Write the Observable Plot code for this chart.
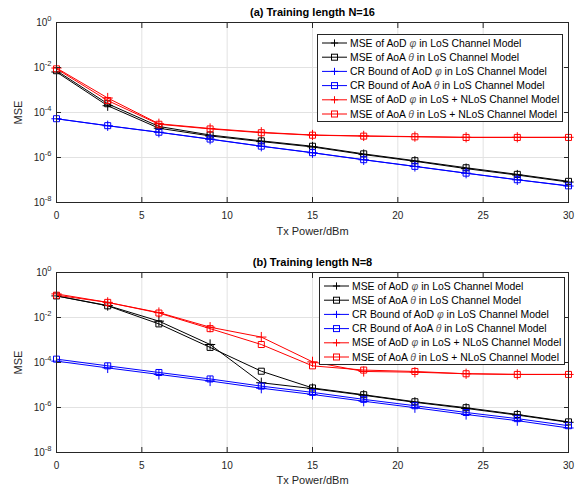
<!DOCTYPE html>
<html><head><meta charset="utf-8">
<script src="https://cdn.jsdelivr.net/npm/d3@7"></script>
<script src="https://cdn.jsdelivr.net/npm/@observablehq/plot@0.6"></script>
<style>
body{margin:0;background:#fff;}
#chart{width:577px;}
#chart svg{display:block;}
</style></head><body><div id="chart"></div>
<script>
// ---- data ----
const txPower = [0, 3, 6, 9, 12, 15, 18, 21, 24, 27, 30];
const seriesNames = [
  "MSE of AoD φ in LoS Channel Model",
  "MSE of AoA θ in LoS Channel Model",
  "CR Bound of AoD φ in LoS Channel Model",
  "CR Bound of AoA θ in LoS Channel Model",
  "MSE of AoD φ in LoS + NLoS Channel Model",
  "MSE of AoA θ in LoS + NLoS Channel Model"
];
const seriesColors = ["#000000", "#000000", "#0000ff", "#0000ff", "#ff0000", "#ff0000"];
const seriesSymbols = ["plus", "square", "plus", "square", "plus", "square"];
const xTicks = [0, 5, 10, 15, 20, 25, 30];
const yTicks = [1, 1e-2, 1e-4, 1e-6, 1e-8];
const yTickExponents = ["0", "-2", "-4", "-6", "-8"];
const titles = ["(a) Training length N=16", "(b) Training length N=8"];
const xLabel = "Tx Power/dBm";
const yLabel = "MSE";

// (a) N = 16
const a_aodLoS   = [6.3e-3, 2.0e-4, 2.0e-5, 9.1e-6, 5.1e-6, 2.95e-6, 1.35e-6, 6.8e-7, 3.2e-7, 1.66e-7, 8.1e-8];
const a_aoaLoS   = [7.2e-3, 2.45e-4, 2.4e-5, 1.0e-5, 5.5e-6, 3.16e-6, 1.45e-6, 7.2e-7, 3.5e-7, 1.78e-7, 8.7e-8];
const a_crbAoD   = [5.25e-5, 2.57e-5, 1.32e-5, 6.5e-6, 3.16e-6, 1.62e-6, 7.9e-7, 4.0e-7, 2.0e-7, 1.02e-7, 5.4e-8];
const a_crbAoA   = [5.3e-5, 2.6e-5, 1.33e-5, 6.6e-6, 3.2e-6, 1.64e-6, 8.0e-7, 4.05e-7, 2.02e-7, 1.03e-7, 5.5e-8];
const a_aodNLoS  = [9.5e-3, 4.4e-4, 3.16e-5, 1.95e-5, 1.32e-5, 1.0e-5, 9.1e-6, 8.5e-6, 7.9e-6, 7.9e-6, 7.9e-6];
const a_aoaNLoS  = [8.7e-3, 3.4e-4, 3.0e-5, 1.86e-5, 1.26e-5, 9.8e-6, 8.9e-6, 8.3e-6, 7.8e-6, 7.8e-6, 7.8e-6];

// (b) N = 8
const b_aodLoS   = [9.1e-2, 3.4e-2, 6.9e-3, 6.3e-4, 1.26e-5, 6.9e-6, 3.5e-6, 1.7e-6, 9.1e-7, 4.6e-7, 2.2e-7];
const b_aoaLoS   = [9.1e-2, 3.3e-2, 5.2e-3, 4.7e-4, 4.1e-5, 7.4e-6, 3.7e-6, 1.8e-6, 9.8e-7, 4.9e-7, 2.3e-7];
const b_crbAoD   = [1.15e-4, 5.75e-5, 2.95e-5, 1.51e-5, 7.2e-6, 3.8e-6, 1.9e-6, 9.8e-7, 4.9e-7, 2.6e-7, 1.23e-7];
const b_crbAoA   = [1.41e-4, 7.1e-5, 3.6e-5, 1.86e-5, 8.9e-6, 4.7e-6, 2.3e-6, 1.2e-6, 6.0e-7, 3.2e-7, 1.55e-7];
const b_aodNLoS  = [1.12e-1, 4.7e-2, 1.66e-2, 3.7e-3, 1.35e-3, 1.07e-4, 4.0e-5, 3.7e-5, 3.16e-5, 2.95e-5, 2.95e-5];
const b_aoaNLoS  = [9.8e-2, 4.7e-2, 1.58e-2, 3.2e-3, 6.3e-4, 7.1e-5, 4.6e-5, 4.0e-5, 3.16e-5, 2.95e-5, 2.95e-5];

const panels = [
  {title: titles[0], series: [a_aodLoS, a_aoaLoS, a_crbAoD, a_crbAoA, a_aodNLoS, a_aoaNLoS],
   height: 243, marginTop: 22, marginBottom: 41, xLabelDy: 29, legendTop: 34, legendLeft: 317},
  {title: titles[1], series: [b_aodLoS, b_aoaLoS, b_crbAoD, b_crbAoA, b_aodNLoS, b_aoaNLoS],
   height: 244, marginTop: 29, marginBottom: 35, xLabelDy: 28, legendTop: 34, legendLeft: 319}
];

const FONT = "'Liberation Sans', Arial, Helvetica, sans-serif";
const AX = "#262626";
const GRID = "#e2e2e2";

function makePanel(p) {
  const marks = [
    Plot.ruleX(xTicks, {stroke: GRID, strokeWidth: 1}),
    Plot.ruleY(yTicks, {stroke: GRID, strokeWidth: 1})
  ];
  p.series.forEach((vals, s) => {
    const rows = vals.map((v, i) => ({x: txPower[i], y: v}));
    marks.push(Plot.line(rows, {x: "x", y: "y", stroke: seriesColors[s], strokeWidth: 1}));
    marks.push(Plot.dot(rows, {x: "x", y: "y", stroke: seriesColors[s], symbol: seriesSymbols[s], r: 3.4, fill: "none", strokeWidth: 1}));
  });
  marks.push(
    Plot.frame({stroke: AX, strokeWidth: 1}),
    Plot.axisX({ticks: xTicks, tickSize: 0, tickPadding: 9, label: null, fill: AX, tickFormat: d => String(d)}),
    Plot.axisX({ticks: xTicks, tickSize: -5, fill: "none", stroke: AX, label: null}),
    Plot.axisX({ticks: xTicks, anchor: "top", tickSize: -5, fill: "none", stroke: AX, label: null}),
    Plot.axisY({ticks: yTicks, tickSize: 0, tickPadding: 5, label: null, fill: AX,
      tickFormat: d => "10^" + yTickExponents[yTicks.indexOf(d)]}),
    Plot.axisY({ticks: yTicks, tickSize: -5, fill: "none", stroke: AX, label: null}),
    Plot.axisY({ticks: yTicks, anchor: "right", tickSize: -5, fill: "none", stroke: AX, label: null}),
    Plot.text([p.title], {frameAnchor: "top", dy: -10, lineAnchor: "middle", textAnchor: "middle", fontWeight: "bold", fontSize: 11, fill: "#000"}),
    Plot.text([xLabel], {frameAnchor: "bottom", dy: p.xLabelDy, lineAnchor: "middle", textAnchor: "middle", fontSize: 11, fill: AX}),
    Plot.text([yLabel], {frameAnchor: "left", dx: -38, rotate: -90, lineAnchor: "middle", textAnchor: "middle", fontSize: 11, fill: AX})
  );
  const svg = Plot.plot({
    width: 577, height: p.height,
    marginLeft: 56, marginRight: 9, marginTop: p.marginTop, marginBottom: p.marginBottom,
    style: {fontFamily: FONT, fontSize: "10px", color: AX, background: "#fff", overflow: "visible"},
    x: {domain: [0, 30]},
    y: {type: "log", domain: [1e-8, 1]},
    marks
  });
  // superscript exponents for the log tick labels
  d3.select(svg).selectAll('g[aria-label="y-axis tick label"] text').each(function() {
    const t = this.textContent;
    if (!t.includes("^")) return;
    const [base, exp] = t.split("^");
    const sel = d3.select(this);
    sel.text("");
    sel.append("tspan").text(base);
    sel.append("tspan").attr("dy", "-5").attr("font-size", "7.5px").text(exp);
  });
  // legend
  const L = p.legendLeft, T = p.legendTop, W = 245, H = 87, rowH = 14.2;
  const g = d3.select(svg).append("g").attr("font-family", FONT).attr("font-size", "10.4px")
    .attr("text-anchor", "start");
  g.append("rect").attr("x", L + 0.5).attr("y", T + 0.5).attr("width", W).attr("height", H)
    .attr("fill", "#fff").attr("stroke", AX).attr("stroke-width", 1);
  seriesNames.forEach((name, i) => {
    const cy = T + 9 + i * rowH;
    const col = seriesColors[i];
    g.append("line").attr("x1", L + 5).attr("x2", L + 30).attr("y1", cy).attr("y2", cy)
      .attr("stroke", col).attr("stroke-width", 1);
    const mx = L + 17.5;
    if (seriesSymbols[i] === "plus") {
      g.append("path").attr("d", `M${mx - 3.6},${cy}H${mx + 3.6}M${mx},${cy - 3.6}V${cy + 3.6}`)
        .attr("stroke", col).attr("fill", "none");
    } else {
      g.append("rect").attr("x", mx - 3).attr("y", cy - 3).attr("width", 6).attr("height", 6)
        .attr("stroke", col).attr("fill", "none");
    }
    const txt = g.append("text").attr("x", L + 33).attr("y", cy).attr("dy", "0.35em")
      .attr("text-anchor", "start").attr("fill", "#000");
    name.split(/([φθ])/).forEach(part => {
      if (!part) return;
      const ts = txt.append("tspan").text(part);
      if (part === "φ" || part === "θ") ts.attr("font-style", "italic").attr("fill", "#555");
    });
  });
  return svg;
}

const root = document.getElementById("chart");
panels.forEach(p => root.appendChild(makePanel(p)));
</script>
</body></html>
